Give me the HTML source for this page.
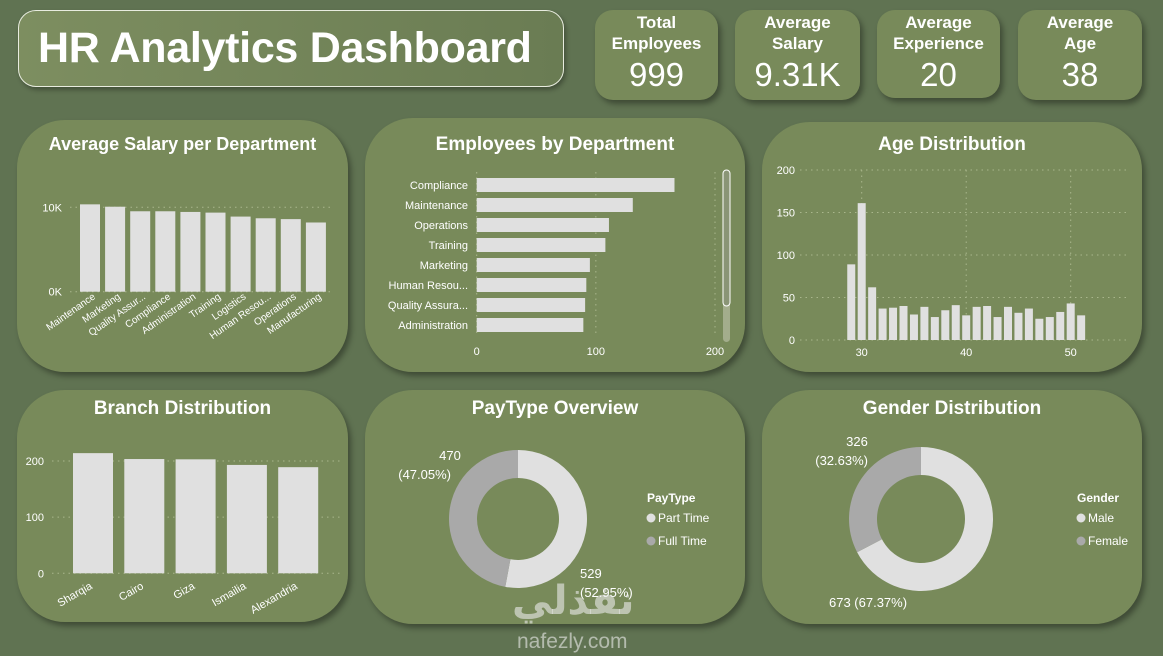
<!DOCTYPE html>
<html><head><meta charset="utf-8"><style>
body{margin:0;width:1163px;height:656px;background:#607352;font-family:"Liberation Sans",sans-serif;overflow:hidden;position:relative;color:#fff}
.card{position:absolute;background:#788a5a;border-radius:48px;box-shadow:3px 4px 6px rgba(0,0,0,.35)}
.kpi{position:absolute;background:#788a5a;border-radius:18px;box-shadow:3px 4px 6px rgba(0,0,0,.35);text-align:center}
.kpi .l{font-size:17px;font-weight:bold;line-height:21px;margin-top:2px}
.kpi .v{font-size:33px;line-height:36px;margin-top:3px}
.title{position:absolute;left:18px;top:10px;width:544px;height:75px;border:1.5px solid #e8ecdf;border-radius:18px;background:linear-gradient(90deg,#7d8e60,#6a7c53);box-shadow:2px 3px 5px rgba(0,0,0,.3)}
.title div{font-size:43px;font-weight:bold;line-height:75px;padding-left:19px;letter-spacing:-0.3px}
.ct{position:absolute;font-size:19px;font-weight:bold;width:100%;text-align:center}
svg{position:absolute;left:0;top:0}
svg text{font-family:"Liberation Sans",sans-serif;fill:#fff}
</style></head><body>
<div class="title"><div>HR Analytics Dashboard</div></div>
<div class="kpi" style="left:595px;top:10px;width:123px;height:90px"><div class="l">Total<br>Employees</div><div class="v">999</div></div>
<div class="kpi" style="left:735px;top:10px;width:125px;height:90px"><div class="l">Average<br>Salary</div><div class="v">9.31K</div></div>
<div class="kpi" style="left:877px;top:10px;width:123px;height:88px"><div class="l">Average<br>Experience</div><div class="v">20</div></div>
<div class="kpi" style="left:1018px;top:10px;width:124px;height:90px"><div class="l">Average<br>Age</div><div class="v">38</div></div>

<div class="card" style="left:17px;top:120px;width:331px;height:252px"><div class="ct" style="top:14px;font-size:18px">Average Salary per Department</div></div>
<div class="card" style="left:365px;top:118px;width:380px;height:254px"><div class="ct" style="top:16px">Employees by Department</div></div>
<div class="card" style="left:762px;top:122px;width:380px;height:250px"><div class="ct" style="top:12px">Age Distribution</div></div>
<div class="card" style="left:17px;top:390px;width:331px;height:232px"><div class="ct" style="top:8px">Branch Distribution</div></div>
<div class="card" style="left:365px;top:390px;width:380px;height:234px"><div class="ct" style="top:8px">PayType Overview</div></div>
<div class="card" style="left:762px;top:390px;width:380px;height:234px"><div class="ct" style="top:8px">Gender Distribution</div></div>

<svg id="s" width="1163" height="656"></svg>
<div style="position:absolute;left:512px;top:578px;font-size:40px;font-weight:bold;color:rgba(235,235,235,.6);font-family:'Liberation Sans','DejaVu Sans',sans-serif">نفذلي</div>
<div style="position:absolute;left:517px;top:630px;font-size:21px;color:rgba(235,235,235,.6)">nafezly.com</div>
<script>
const salaryDepts=["Maintenance","Marketing","Quality Assur...","Compliance","Administration","Training","Logistics","Human Resou...","Operations","Manufacturing"];
const salaryVals=[10.35,10.07,9.53,9.53,9.45,9.37,8.9,8.7,8.6,8.2];
const salaryTicks=["0K","10K"];
const empDepts=["Compliance","Maintenance","Operations","Training","Marketing","Human Resou...","Quality Assura...","Administration"];
const empVals=[166,131,111,108,95,92,91,89.5];
const empTicks=[0,100,200];
const ages=[29,30,31,32,33,34,35,36,37,38,39,40,41,42,43,44,45,46,47,48,49,50,51];
const ageCounts=[89,161,62,37,38,40,30,39,27,35,41,29,39,40,27,39,32,37,25,27,33,43,29];
const ageYTicks=[0,50,100,150,200];
const ageXTicks=[30,40,50];
const branches=["Sharqia","Cairo","Giza","Ismailia","Alexandria"];
const branchVals=[214,203.5,203,193,189];
const branchTicks=[0,100,200];
const payLabels=["Part Time","Full Time"];
const payVals=[529,470];
const genderLabels=["Male","Female"];
const genderVals=[673,326];

const S=document.getElementById('s');const NS="http://www.w3.org/2000/svg";
function mk(t,a,txt){const e=document.createElementNS(NS,t);for(const k in a)e.setAttribute(k,a[k]);if(txt!==undefined)e.textContent=txt;S.appendChild(e);return e;}
const BAR="#e0e0e0",GREY="#a9a9a9",GRID="#a9b68c";
function grid(x1,y1,x2,y2){const g=mk('line',{x1,y1,x2,y2,stroke:GRID,'stroke-dasharray':'1.5 4','stroke-width':1});}

// Salary
{const y=v=>291.7-v*8.44, x=i=>80+i*25.1;
salaryTicks.forEach((t,i)=>{const v=i*10;grid(70,y(v),330,y(v));const e=mk('text',{x:62,y:y(v)+4,'font-size':11,'text-anchor':'end'},t);});
salaryVals.forEach((v,i)=>{const r=mk('rect',{x:x(i),y:y(v),width:20,height:y(0)-y(v),fill:BAR});
const t=mk('text',{x:x(i)+16,y:298,'font-size':10,'text-anchor':'end',transform:`rotate(-35 ${x(i)+16} 298)`},salaryDepts[i]);});}

// Employees
{const x=v=>476.7+v*1.1915, y=i=>178+i*20;
empTicks.forEach(t=>{grid(x(t),172,x(t),335);const e=mk('text',{x:x(t),y:355,'font-size':11,'text-anchor':'middle'},t);});
empVals.forEach((v,i)=>{const r=mk('rect',{x:x(0),y:y(i),width:x(v)-x(0),height:14,fill:BAR});
const t=mk('text',{x:468,y:y(i)+11,'font-size':11,'text-anchor':'end'},empDepts[i]);});
const sb=mk('rect',{x:723,y:170,width:7,height:172,rx:3.5,fill:"#a3ad8c"});
const th=mk('rect',{x:723,y:170,width:7,height:136,rx:3.5,fill:"#8a9576",stroke:"#fff","stroke-width":1});}

// Age
{const y=v=>340-v*0.85, x=a=>861.7+(a-30)*10.45;
ageYTicks.forEach(t=>{grid(800,y(t),1128,y(t));const e=mk('text',{x:795,y:y(t)+4,'font-size':11,'text-anchor':'end'},t);});
ageXTicks.forEach(t=>{grid(x(t),170,x(t),340);const e=mk('text',{x:x(t),y:356,'font-size':11,'text-anchor':'middle'},t);});
ageCounts.forEach((v,i)=>{const r=mk('rect',{x:x(ages[i])-4,y:y(v),width:8,height:y(0)-y(v),fill:BAR});});}

// Branch
{const y=v=>573.3-v*0.5615, x=i=>73+i*51.3;
branchTicks.forEach(t=>{grid(52,y(t),340,y(t));const e=mk('text',{x:44,y:y(t)+4,'font-size':11,'text-anchor':'end'},t);});
branchVals.forEach((v,i)=>{const r=mk('rect',{x:x(i),y:y(v),width:40,height:y(0)-y(v),fill:BAR});
const t=mk('text',{x:x(i)+20,y:588,'font-size':11,'text-anchor':'end',transform:`rotate(-30 ${x(i)+20} 588)`},branches[i]);});}

function donut(cx,cy,R,r,vals,labels,title,lx,ly,name){
const tot=vals.reduce((a,b)=>a+b,0);let a0=-Math.PI/2;const cols=[BAR,GREY];
vals.forEach((v,i)=>{const a1=a0+v/tot*2*Math.PI,lg=(a1-a0)>Math.PI?1:0;
const p=(rr,a)=>[cx+rr*Math.cos(a),cy+rr*Math.sin(a)];
const [x1,y1]=p(R,a0),[x2,y2]=p(R,a1),[x3,y3]=p(r,a1),[x4,y4]=p(r,a0);
const e=mk('path',{d:`M${x1} ${y1}A${R} ${R} 0 ${lg} 1 ${x2} ${y2}L${x3} ${y3}A${r} ${r} 0 ${lg} 0 ${x4} ${y4}Z`,fill:cols[i]});
a0=a1;});
const t=mk('text',{x:lx,y:ly,'font-size':12,'font-weight':'bold'},title);
labels.forEach((l,i)=>{const c=mk('circle',{cx:lx+4,cy:ly+16+i*23,r:4.5,fill:cols[i]});
const e=mk('text',{x:lx+11,y:ly+20+i*23,'font-size':12},l);});
return tot;}
{const tot=donut(518,519,69,41,payVals,payLabels,"PayType",647,502,'paytype');
const pc=v=>`(${(v/tot*100).toFixed(2)}%)`;
[[payVals[1],450,460,'end'],[payVals[0],580,578,'start']].forEach(([v,x,yy,an])=>{
const a=mk('text',{x:an==='end'?x:x,y:yy,'font-size':13,'text-anchor':an==='end'?'middle':'start'},v);
const b=mk('text',{x:an==='end'?451:580,y:yy+19,'font-size':13,'text-anchor':an==='end'?'end':'start'},pc(v));});}
{const tot=donut(921,519,72,44,genderVals,genderLabels,"Gender",1077,502,'gender');
const pc=v=>`(${(v/tot*100).toFixed(2)}%)`;
const a=mk('text',{x:857,y:446,'font-size':13,'text-anchor':'middle'},genderVals[1]);
const b=mk('text',{x:868,y:465,'font-size':13,'text-anchor':'end'},pc(genderVals[1]));
const c=mk('text',{x:829,y:607,'font-size':13},genderVals[0]+' '+pc(genderVals[0]));}
</script>
</body></html>
